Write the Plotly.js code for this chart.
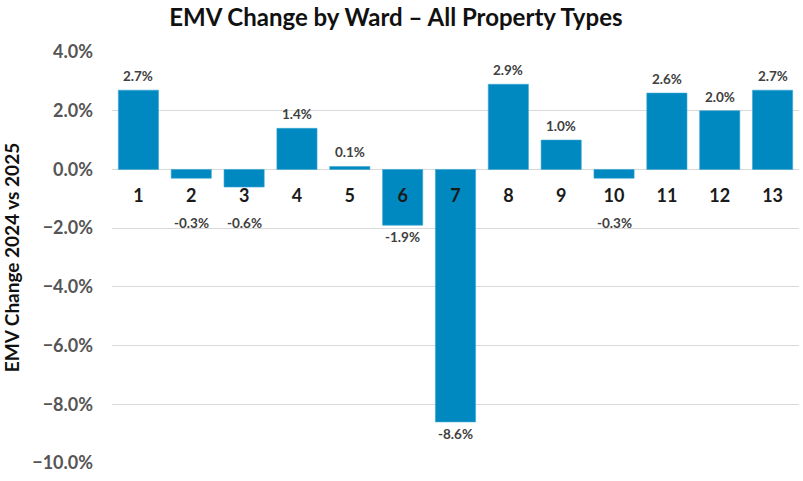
<!DOCTYPE html>
<html><head><meta charset="utf-8">
<script src="https://cdn.plot.ly/plotly-3.0.1.min.js"></script>
<style>html,body{margin:0;padding:0;background:#fff}#c{width:803px;height:481px}</style>
</head><body><div id="c"></div>
<script>
const wards = ['1','2','3','4','5','6','7','8','9','10','11','12','13'];
const changes = [0.027,-0.003,-0.006,0.014,0.001,-0.019,-0.086,0.029,0.010,-0.003,0.026,0.020,0.027];
const labelFloor = -0.0143;

const FONT = 'Lato, "Open Sans", sans-serif';
const annotations = wards.map((w,i)=>{
  const v = changes[i];
  const neg = v < 0;
  return {
    x: i, y: neg ? Math.min(v, labelFloor) : v, xref:'x', yref:'y',
    text: (v*100).toFixed(1)+'%', showarrow:false,
    yanchor: neg ? 'top' : 'bottom', yshift: neg ? -2 : 4,
    font:{family:FONT, size:13.5, color:'#404040', weight:'bold'}
  };
});

const trace = {
  type:'bar', x:wards, y:changes,
  marker:{color:'#0089c0', line:{color:'#3aa6d3', width:0.6}},
  hoverinfo:'skip'
};
const layout = {
  width:803, height:481,
  margin:{l:112, r:4, t:52, b:18},
  paper_bgcolor:'#fff', plot_bgcolor:'#fff',
  title:{text:'<b>EMV Change by Ward – All Property Types</b>', x:0.493, xanchor:'center', y:0.963, yanchor:'middle',
         font:{family:FONT, size:24, color:'#111'}},
  bargap:0.24,
  showlegend:false,
  xaxis:{type:'category', range:[-0.5,12.5], anchor:'free', position:10/14, showgrid:false, showline:false, zeroline:false,
         ticks:'', ticklabelstandoff:14,
         tickfont:{family:FONT, size:18, color:'#1a1a1a', weight:'bold'}},
  yaxis:{range:[-0.10,0.04], dtick:0.02, tickformat:'.1%', showgrid:true, gridcolor:'#d9d9d9', gridwidth:1,
         zeroline:true, zerolinecolor:'#d9d9d9', zerolinewidth:1, showline:false, ticks:'',
         ticklabelstandoff:18,
         tickfont:{family:FONT, size:18, color:'#555', weight:'bold'},
         title:{text:'<b>EMV Change 2024 vs 2025</b>', standoff:14, font:{family:FONT, size:19, color:'#111'}}},
  annotations: annotations
};
Plotly.newPlot('c',[trace],layout,{displayModeBar:false, staticPlot:true});
</script></body></html>
